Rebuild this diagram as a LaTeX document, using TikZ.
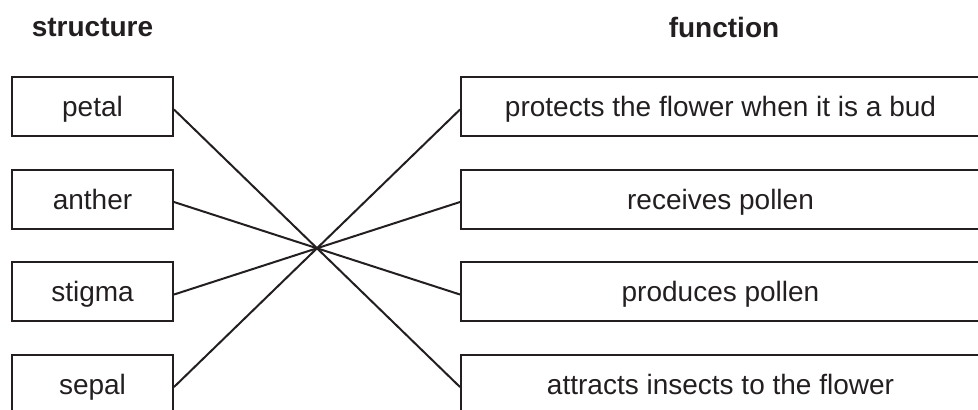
\documentclass[tikz,border=0pt]{standalone}
\usepackage{fontspec}
\setmainfont{Liberation Sans}
\definecolor{ink}{HTML}{231F20}
\tikzset{
  part/.style={draw=ink, line width=1pt, minimum width=80.5pt, minimum height=29.5pt,
    inner sep=0pt, text depth=0pt, text=ink, font=\fontsize{14}{16}\selectfont},
  role/.style={part, minimum width=259.5pt},
  head/.style={text=ink, inner sep=0pt, font=\fontsize{14}{16}\selectfont\bfseries}
}

\begin{document}
\begin{tikzpicture}[line cap=round,x=0.5pt,y=-0.5pt]
    \useasboundingbox (0,0) rectangle (978,409);
    \clip (0,0) rectangle (978,409);
    \draw(92.5,27) node[head] (H1) {structure};
    \draw(724,27) node[head] (H2) {function};

    \draw(92.5,106.5) node[part] (S1) {petal};
    \draw(92.5,199) node[part] (S2) {anther};
    \draw(92.5,291.5) node[part] (S3) {stigma};
    \draw(92.5,384) node[part] (S4) {sepal};

    \draw(720.5,106.5) node[role] (F1) {protects the flower when it is a bud};
    \draw(720.5,199) node[role] (F2) {receives pollen};
    \draw(720.5,291.5) node[role] (F3) {produces pollen};
    \draw(720.5,384) node[role] (F4) {attracts insects to the flower};

    % Edges
    \foreach \source/\target in {S1/F4, S2/F3, S3/F2, S4/F1} {
            \draw[ink, line width=1pt] ([yshift=-1.5pt]\source.east) -- ([yshift=-1.5pt]\target.west);
        }
\end{tikzpicture}
\end{document}
